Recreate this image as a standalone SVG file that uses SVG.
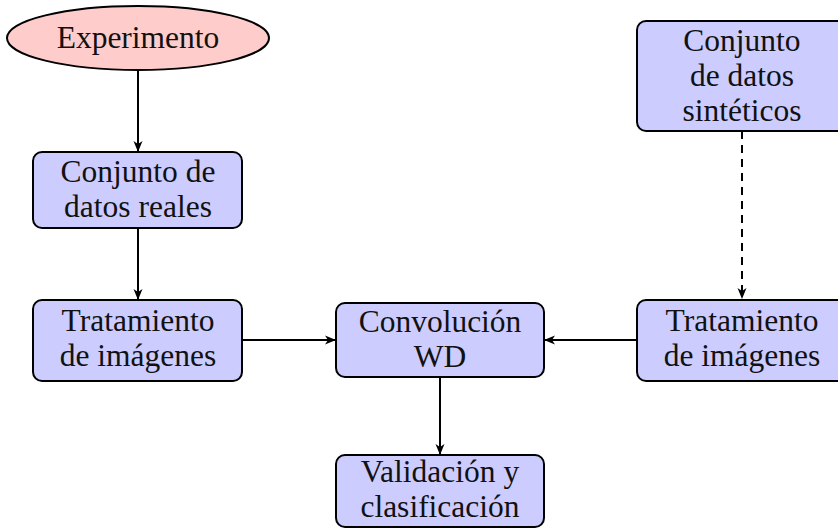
<svg xmlns="http://www.w3.org/2000/svg" width="838" height="531" viewBox="0 0 838 531">
<defs>
<style>
.box{fill:#ccccff;stroke:#000;stroke-width:2}
.ell{fill:#ffcccc;stroke:#000;stroke-width:2}
.c{fill:none;stroke:#000;stroke-width:2}
.d{stroke-dasharray:8 6}
</style>
<marker id="ah" markerUnits="userSpaceOnUse" markerWidth="12" markerHeight="10" refX="11" refY="5" orient="auto">
<path d="M0,0.5 L11,5 L0,9.5 L3,5 z" fill="#000"/>
</marker>
</defs>
<rect width="838" height="531" fill="#fff"/>
<g id="connectors">
<line class="c" x1="138" y1="70" x2="138" y2="152" marker-end="url(#ah)"/>
<line class="c" x1="138" y1="228" x2="138" y2="300" marker-end="url(#ah)"/>
<line class="c" x1="242" y1="340" x2="336" y2="340" marker-end="url(#ah)"/>
<line class="c" x1="637" y1="340" x2="544" y2="340" marker-end="url(#ah)"/>
<line class="c d" x1="742" y1="131" x2="742" y2="299" marker-end="url(#ah)"/>
<line class="c" x1="440" y1="377" x2="440" y2="455" marker-end="url(#ah)"/>
</g>
<g font-family="'Liberation Serif', serif" font-size="31.5" fill="#111" text-anchor="middle">
<g id="experimento">
<ellipse class="ell" cx="138" cy="38" rx="131" ry="32"/>
<text x="138" y="48">Experimento</text>
</g>
<g id="reales">
<rect class="box" x="33" y="152" width="209" height="76" rx="9"/>
<text x="138" y="182">Conjunto de</text>
<text x="138" y="217">datos reales</text>
</g>
<g id="trat1">
<rect class="box" x="33" y="300" width="209" height="81" rx="9"/>
<text x="138" y="331">Tratamiento</text>
<text x="138" y="366">de imágenes</text>
</g>
<g id="conv">
<rect class="box" x="336" y="303" width="208" height="74" rx="9"/>
<text x="440" y="332">Convolución</text>
<text x="440" y="367">WD</text>
</g>
<g id="valid">
<rect class="box" x="336" y="455" width="208" height="72" rx="9"/>
<text x="440" y="482">Validación y</text>
<text x="440" y="517">clasificación</text>
</g>
<g id="sinteticos">
<rect class="box" x="637" y="21" width="209" height="110" rx="9"/>
<text x="742" y="51">Conjunto</text>
<text x="742" y="86">de datos</text>
<text x="742" y="121">sintéticos</text>
</g>
<g id="trat2">
<rect class="box" x="637" y="300" width="209" height="81" rx="9"/>
<text x="742" y="331">Tratamiento</text>
<text x="742" y="366">de imágenes</text>
</g>
</g>
</svg>
